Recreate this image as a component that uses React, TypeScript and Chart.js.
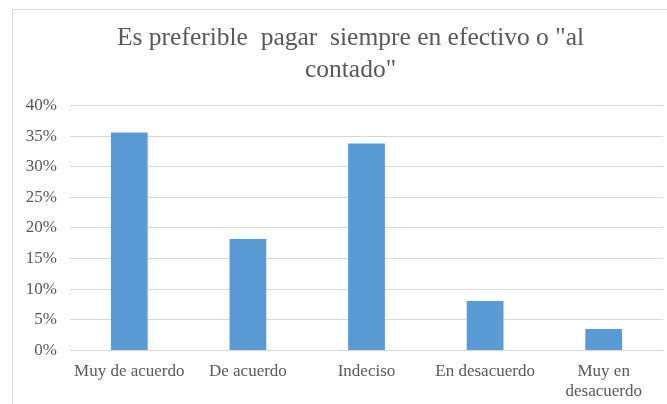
import React, { useEffect, useRef } from "react";
import { Chart, registerables } from "chart.js";

Chart.register(...registerables);

const titleLines = ['Es preferible  pagar  siempre en efectivo o "al', 'contado"'];
const categoryLabels = [["Muy de acuerdo"], ["De acuerdo"], ["Indeciso"], ["En desacuerdo"], ["Muy en", "desacuerdo"]];
const percentValues = [35.6, 18.2, 33.8, 8.1, 3.5];
const yTickMin = 0;
const yTickMax = 40;
const yTickStep = 5;

const SERIF = "'Liberation Serif', 'Times New Roman', serif";
const TEXT = "#595959";

export default function App() {
  const ref = useRef<HTMLCanvasElement | null>(null);

  useEffect(() => {
    const canvas = ref.current;
    if (!canvas) return;
    const chart = new Chart(canvas, {
      type: "bar",
      data: {
        labels: categoryLabels,
        datasets: [
          {
            data: percentValues,
            backgroundColor: "#5B9BD5",
            borderWidth: 0,
            barPercentage: 1,
            categoryPercentage: 0.31,
            yAxisID: "y",
          },
        ],
      },
      options: {
        responsive: false,
        animation: false,
        layout: { padding: 0 },
        plugins: {
          legend: { display: false },
          tooltip: { enabled: false },
          title: {
            display: true,
            text: titleLines,
            color: TEXT,
            font: { family: SERIF, size: 25.5, weight: "normal", lineHeight: 1.225 },
            padding: { top: 13, bottom: 20 },
          },
        },
        scales: {
          x: {
            grid: { display: false, drawTicks: false },
            border: { display: false },
            ticks: {
              color: TEXT,
              font: { family: SERIF, size: 17, lineHeight: 1.12 },
              padding: 12,
              maxRotation: 0,
              autoSkip: false,
            },
            afterFit: (scale: any) => {
              scale.height = 79.5;
            },
          },
          y: {
            min: yTickMin,
            max: yTickMax,
            grid: { color: "#d9d9d9", lineWidth: 1, drawTicks: false },
            border: { display: false },
            ticks: {
              stepSize: yTickStep,
              color: TEXT,
              font: { family: SERIF, size: 17 },
              padding: 13,
              callback: (v: any) => `${v}%`,
            },
            afterFit: (scale: any) => {
              scale.width = 57;
            },
          },
          yRightSpacer: {
            type: "linear",
            position: "right",
            min: yTickMin,
            max: yTickMax,
            grid: { display: false, drawTicks: false },
            border: { display: false },
            ticks: { display: false },
            afterFit: (scale: any) => {
              scale.width = 25;
            },
          },
        },
      },
    });
    return () => chart.destroy();
  }, []);

  return (
    <div style={{ position: "fixed", left: 0, top: 0, right: 0, bottom: 0, overflow: "hidden", background: "#fff" }}>
      <div
        style={{
          position: "absolute",
          left: 12,
          top: 9,
          width: 675,
          height: 420,
          border: "1px solid #d9d9d9",
          background: "#fff",
        }}
      >
        <canvas ref={ref} width={675} height={420} style={{ display: "block" }} />
      </div>
    </div>
  );
}
